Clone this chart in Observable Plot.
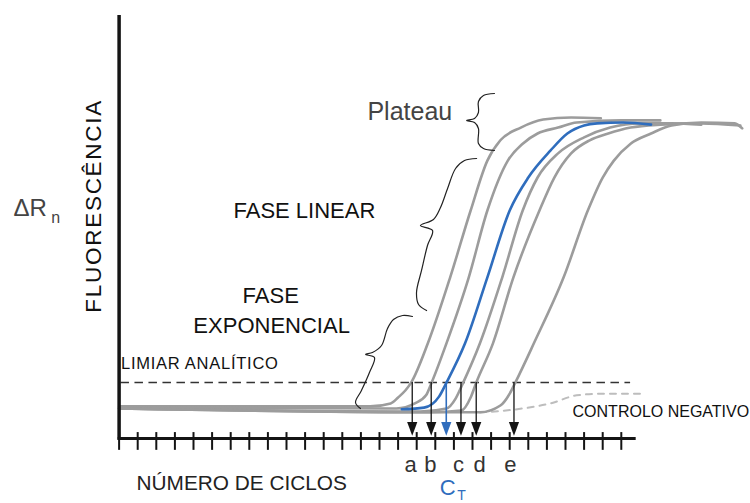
<!DOCTYPE html>
<html><head><meta charset="utf-8">
<script src="https://cdn.jsdelivr.net/npm/d3@7"></script>
<script src="https://cdn.jsdelivr.net/npm/@observablehq/plot@0.6"></script>
<style>body{margin:0;background:#fff} svg{display:block}</style>
</head><body>
<div id="chart"></div>
<script>
// ---- data (x = cycle number, y = ΔRn, arbitrary units 0–100) ----
const cycleTicks = [0,1,2,3,4,5,6,7,8,9,10,11,12,13,14,15,16,17,18,19,20,21,22,23,24,25,26,27];
const thresholdLevel = 13.24;

const curveA = [[0,7.6],[13.5,7.6],[14.6,8.3],[15.0,9.7],[15.4,11.4],[15.7,13.2],[16.6,22.5],[17.8,38.1],[18.9,53.9],[19.8,65.7],[20.5,70.5],[21.6,73.5],[22.8,75.4],[24.3,75.9],[25.9,75.7]];
const curveB = [[0,7.3],[14.9,7.1],[15.9,8.3],[16.5,10.2],[16.8,13.2],[17.6,22.5],[18.8,38.1],[19.8,53.9],[20.9,65.7],[21.7,69.7],[22.5,72.1],[23.6,73.5],[24.6,74.7],[27.0,75.2],[29.1,75.2]];
const curveCT = [[15.2,6.9],[16.4,7.3],[17.2,9.9],[17.6,13.2],[18.6,22.5],[19.8,38.1],[21.0,53.9],[22.0,61.7],[23.2,68.1],[24.1,72.1],[25.0,74.0],[25.7,74.5],[27.1,74.7],[28.6,74.2]];
const curveC = [[0,7.1],[16.2,6.4],[17.6,7.1],[18.1,9.5],[18.5,13.2],[19.4,22.5],[20.6,38.1],[21.7,53.9],[22.5,61.7],[23.6,67.4],[25.0,71.2],[26.4,73.5],[28.0,74.5],[29.7,74.5],[31.3,74.2]];
const curveD = [[0,7.1],[16.7,6.2],[18.4,6.6],[18.9,9.7],[19.2,13.2],[20.1,22.5],[21.2,38.1],[22.6,53.9],[23.4,61.7],[24.3,67.4],[25.3,70.5],[26.3,72.1],[27.5,73.5],[29.1,74.2],[31.3,74.5],[33.4,74.0]];
const curveE = [[0,7.1],[17.3,6.2],[19.4,6.2],[20.5,7.8],[21.0,10.6],[21.3,13.2],[22.3,22.5],[23.9,38.1],[25.2,53.9],[26.0,61.7],[26.6,65.7],[27.5,69.7],[28.6,72.1],[29.7,74.0],[31.3,74.7],[33.1,74.5],[33.5,73.3]];
const negativeControl = [[19.4,6.15],[21.7,7.1],[23.2,8.3],[24.6,10.2],[26.0,10.6],[28.2,10.6]];

const ctLetters = ["a","b","c","d","e"];
const ctCyclesGray = [15.76,16.78,18.38,19.20,21.23];
const ctLabelCycles = [15.67,16.74,18.25,19.38,21.04];
const ctCycleBlue = 17.59;

const braceLinear = [[19.22,66.19],[18.57,65.72],[18.09,63.83],[17.66,59.10],[17.28,54.61],[16.90,51.77],[16.20,50.35],[16.85,49.17],[16.58,45.63],[16.26,39.72],[15.99,34.52],[16.10,31.68],[16.53,30.26]];
const braceExp = [[15.77,28.84],[15.24,29.08],[14.75,28.13],[14.43,26.00],[14.11,21.99],[13.62,20.33],[13.25,19.86],[13.73,19.15],[13.46,15.60],[13.03,11.35],[12.71,8.51],[12.98,7.09]];
const bracePlateau = [[20.18,81.56],[19.59,81.09],[19.32,79.67],[19.32,77.07],[19.11,75.65],[18.68,75.18],[19.11,74.70],[19.32,73.29],[19.32,69.74],[19.59,68.56],[20.18,68.09]];

// ---- build tables ----
const toRows = (id, pts) => pts.map(([x, y]) => ({id, x, y}));
const grayRows = [
  ...toRows("a", curveA), ...toRows("b", curveB), ...toRows("c", curveC),
  ...toRows("d", curveD), ...toRows("e", curveE)
];
const blueRows = toRows("ct", curveCT);
const ncRows = toRows("nc", negativeControl);
const braceRows = [...toRows("p", bracePlateau), ...toRows("l", braceLinear), ...toRows("x", braceExp)];
const grayArrows = ctCyclesGray.map((x, i) => ({x, letter: ctLetters[i], lx: ctLabelCycles[i]}));

const BLUE = "#2f6dbd";
const GRAY = "#9c9c9c";
const INK = "#141414";

const arrowHead = {
  draw(ctx, size) {
    const r = Math.sqrt(size / Math.PI);
    ctx.moveTo(-0.85 * r, -1.15 * r);
    ctx.lineTo(0.85 * r, -1.15 * r);
    ctx.lineTo(0, 1.15 * r);
    ctx.closePath();
  }
};

const font = "'Liberation Sans', Arial, Helvetica, sans-serif";

const chart = Plot.plot({
  width: 750,
  height: 503,
  marginLeft: 118.6,
  marginRight: 110.6,
  marginTop: 15,
  marginBottom: 65,
  x: {domain: [0, 28], axis: null},
  y: {domain: [0, 100], axis: null},
  style: {fontFamily: font, background: "#fff", overflow: "visible"},
  marks: [
    // threshold
    Plot.ruleY([thresholdLevel], {x1: 0.1, x2: 27.5, stroke: "#333", strokeWidth: 1.3, strokeDasharray: "8.5,5.5"}),
    // negative control
    Plot.line(ncRows, {x: "x", y: "y", stroke: "#bdbdbd", strokeWidth: 2, strokeDasharray: "6,6", curve: "monotone-x"}),
    // amplification curves
    Plot.line(grayRows, {x: "x", y: "y", z: "id", stroke: GRAY, strokeWidth: 2.6, curve: "monotone-x"}),
    Plot.line(blueRows, {x: "x", y: "y", stroke: BLUE, strokeWidth: 2.6, curve: "monotone-x"}),
    // braces
    Plot.line(braceRows, {x: "x", y: "y", z: "id", stroke: "#222", strokeWidth: 1.2, curve: "catmull-rom"}),
    // arrows
    Plot.ruleX(grayArrows, {x: "x", y1: thresholdLevel, y2: 3.3, stroke: INK, strokeWidth: 1.3}),
    Plot.ruleX([ctCycleBlue], {x: d => d, y1: thresholdLevel, y2: 3.3, stroke: BLUE, strokeWidth: 1.6}),
    Plot.dot(grayArrows, {x: "x", y: 2.27, r: 6, symbol: arrowHead, fill: INK, stroke: null}),
    Plot.dot([ctCycleBlue], {x: d => d, y: 2.27, r: 6, symbol: arrowHead, fill: BLUE, stroke: null}),
    // axes
    Plot.ruleX(cycleTicks, {x: d => d, y1: 1.4, y2: -2.8, stroke: INK, strokeWidth: 2}),
    Plot.ruleY([0], {x1: -0.05, x2: 27.8, stroke: INK, strokeWidth: 3.2}),
    Plot.ruleX([0], {y1: -0.4, y2: 100, stroke: INK, strokeWidth: 3.5}),
    // labels
    Plot.text(grayArrows, {x: "lx", y: -6.15, text: "letter", fontSize: 22, fill: "#333"}),
    Plot.text(["C"], {x: 17.66, y: -11.6, text: d => d, fontSize: 22, fill: BLUE}),
    Plot.text(["T"], {x: 18.41, y: -13.5, text: d => d, fontSize: 14, fill: BLUE}),
    Plot.text(["Plateau"], {x: 13.35, y: 77.3, text: d => d, fontSize: 25, fill: "#444", textAnchor: "start"}),
    Plot.text(["FASE LINEAR"], {x: 6.15, y: 53.9, text: d => d, fontSize: 22, fill: "#111", textAnchor: "start"}),
    Plot.text(["FASE"], {x: 8.15, y: 33.6, text: d => d, fontSize: 22, fill: "#111"}),
    Plot.text(["EXPONENCIAL"], {x: 8.2, y: 26.5, text: d => d, fontSize: 22, fill: "#111"}),
    Plot.text(["LIMIAR ANALÍTICO"], {x: 0.1, y: 17.7, text: d => d, fontSize: 16.5, fill: "#111", textAnchor: "start"}),
    Plot.text(["CONTROLO NEGATIVO"], {x: 24.38, y: 6.2, text: d => d, fontSize: 16, fill: "#111", textAnchor: "start"}),
    Plot.text(["NÚMERO DE CICLOS"], {x: 0.94, y: -10.6, text: d => d, fontSize: 20.8, fill: "#222", textAnchor: "start"}),
    Plot.text(["ΔR"], {x: -5.68, y: 54.4, text: d => d, fontSize: 24, fill: "#444", textAnchor: "start"}),
    Plot.text(["n"], {x: -3.65, y: 52.2, text: d => d, fontSize: 16, fill: "#444", textAnchor: "start"}),
    Plot.text(["FLUORESCÊNCIA"], {x: -1.38, y: 54.8, text: d => d, fontSize: 22.5, fill: "#111", rotate: -90})
  ]
});
// stretch two labels to the lengths they have in the original figure
const stretch = {"LIMIAR ANALÍTICO": 157, "FLUORESCÊNCIA": 212};
d3.select(chart).selectAll("text").each(function () {
  const len = stretch[this.textContent];
  if (len) { this.setAttribute("textLength", len); this.setAttribute("lengthAdjust", "spacing"); }
});
document.getElementById("chart").appendChild(chart);
</script>
</body></html>
